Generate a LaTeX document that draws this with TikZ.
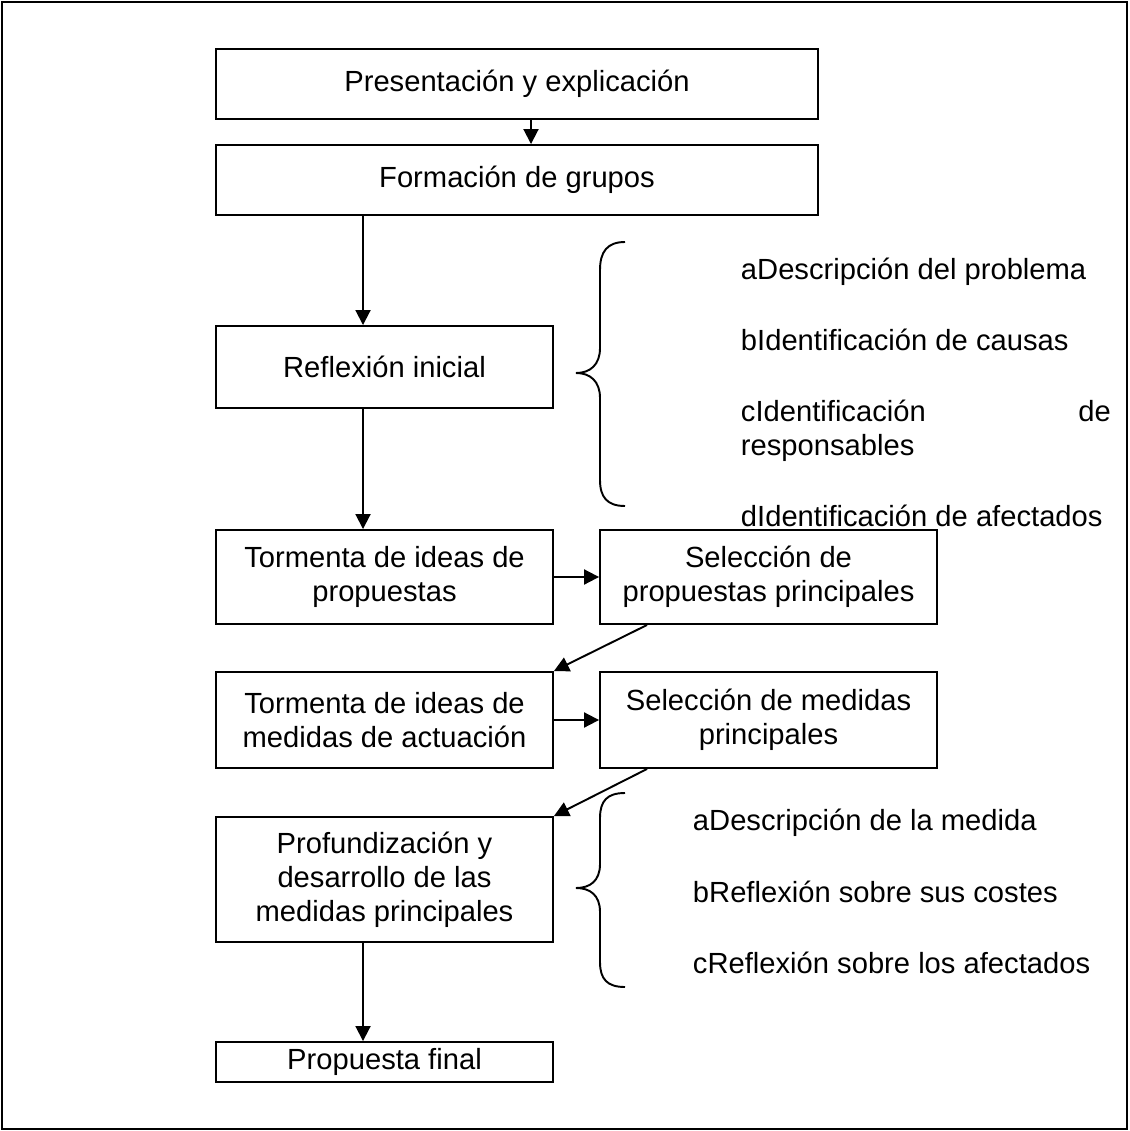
\documentclass[tikz,border=0pt]{standalone}
\usepackage{fontspec}
\setmainfont{Liberation Sans}
\usetikzlibrary{arrows.meta}

\tikzset{
  stagebox/.style={draw, line width=1.1pt, align=center, inner sep=0pt,
    font=\fontsize{16.6}{19.3}\selectfont},
  widebox/.style={stagebox, minimum width=12.04cm, minimum height=1.4cm},
  narrowbox/.style={stagebox, minimum width=6.74cm},
  itemtext/.style={anchor=west, inner sep=0pt, align=left,
    font=\fontsize{16.6}{19.3}\selectfont}
}

\begin{document}
\begin{tikzpicture}[x=0.02cm, y=-0.02cm, line width=1.1pt,
    >={Triangle[length=0.3cm, width=0.3cm]}]
        \useasboundingbox (0,0) rectangle (1129,1131);
        \draw (2,2) rectangle (1127,1129);

        % First stage nodes
        \node[widebox] (n1) at (517,84) {Presentación y explicación};
        \node[widebox] (n2) at (517,180) {Formación de grupos};
        \draw[->] ([xshift=0.28cm]n1.south) -- ([xshift=0.28cm]n2.north);

        % Second stage nodes
        \node[narrowbox, minimum height=1.64cm] (n3) at (384.5,367) {Reflexión inicial};
        \draw[->] ([xshift=-0.43cm]n3.north |- n2.south) -- ([xshift=-0.43cm]n3.north);

        % Brace with the first questions
        \draw (625,242) .. controls (607,242) and (600,252) .. (600,270) -- (600,348)
              .. controls (600,365) and (590,373) .. (576,373)
              .. controls (590,373) and (600,381) .. (600,398) -- (600,480)
              .. controls (600,497) and (607,506) .. (625,506);
        \node[itemtext] (a1) at (740,272) {aDescripción del problema};
        \node[itemtext] (a2) at (740,340) {bIdentificación de causas};
        \node[itemtext, text width=7.4cm] (a3) at (740,431) {cIdentificación\hfill de\\responsables};
        \node[itemtext] (a4) at (740,516) {dIdentificación de afectados};

        % Third stage nodes
        \node[narrowbox, minimum height=1.88cm] (n4) at (384.5,577) {Tormenta de ideas de\\propuestas};
        \draw[->] ([xshift=-0.43cm]n3.south) -- ([xshift=-0.43cm]n4.north);
        \node[narrowbox, minimum height=1.88cm] (n5) at (768.5,577) {Selección de\\propuestas principales};
        \draw[->] (n4) -- (n5);

        % Fourth stage nodes
        \node[narrowbox, minimum height=1.92cm] (n6) at (384.5,720) {Tormenta de ideas de\\medidas de actuación};
        \draw[->] ([xshift=0.96cm]n5.south west) -- (n6.north east);
        \node[narrowbox, minimum height=1.92cm] (n7) at (768.5,720) {Selección de medidas\\principales};
        \draw[->] (n6) -- (n7);

        % Fifth stage nodes
        \node[narrowbox, minimum height=2.5cm] (n8) at (384.5,879.5) {Profundización y\\desarrollo de las\\medidas principales};
        \draw[->] ([xshift=0.96cm]n7.south west) -- (n8.north east);

        % Brace with the second questions
        \draw (625,793) .. controls (607,793) and (600,801) .. (600,818) -- (600,864)
              .. controls (600,881) and (590,888) .. (576,888)
              .. controls (590,888) and (600,895) .. (600,912) -- (600,962)
              .. controls (600,979) and (607,987) .. (625,987);
        \node[itemtext] (b1) at (692,823) {aDescripción de la medida};
        \node[itemtext] (b2) at (692,892) {bReflexión sobre sus costes};
        \node[itemtext] (b3) at (692,963) {cReflexión sobre los afectados};

        % Last stage node
        \node[narrowbox, minimum height=0.8cm] (n9) at (384.5,1062) {Propuesta final};
        \draw[->] ([xshift=-0.43cm]n8.south) -- ([xshift=-0.43cm]n9.north);
\end{tikzpicture}
\end{document}
